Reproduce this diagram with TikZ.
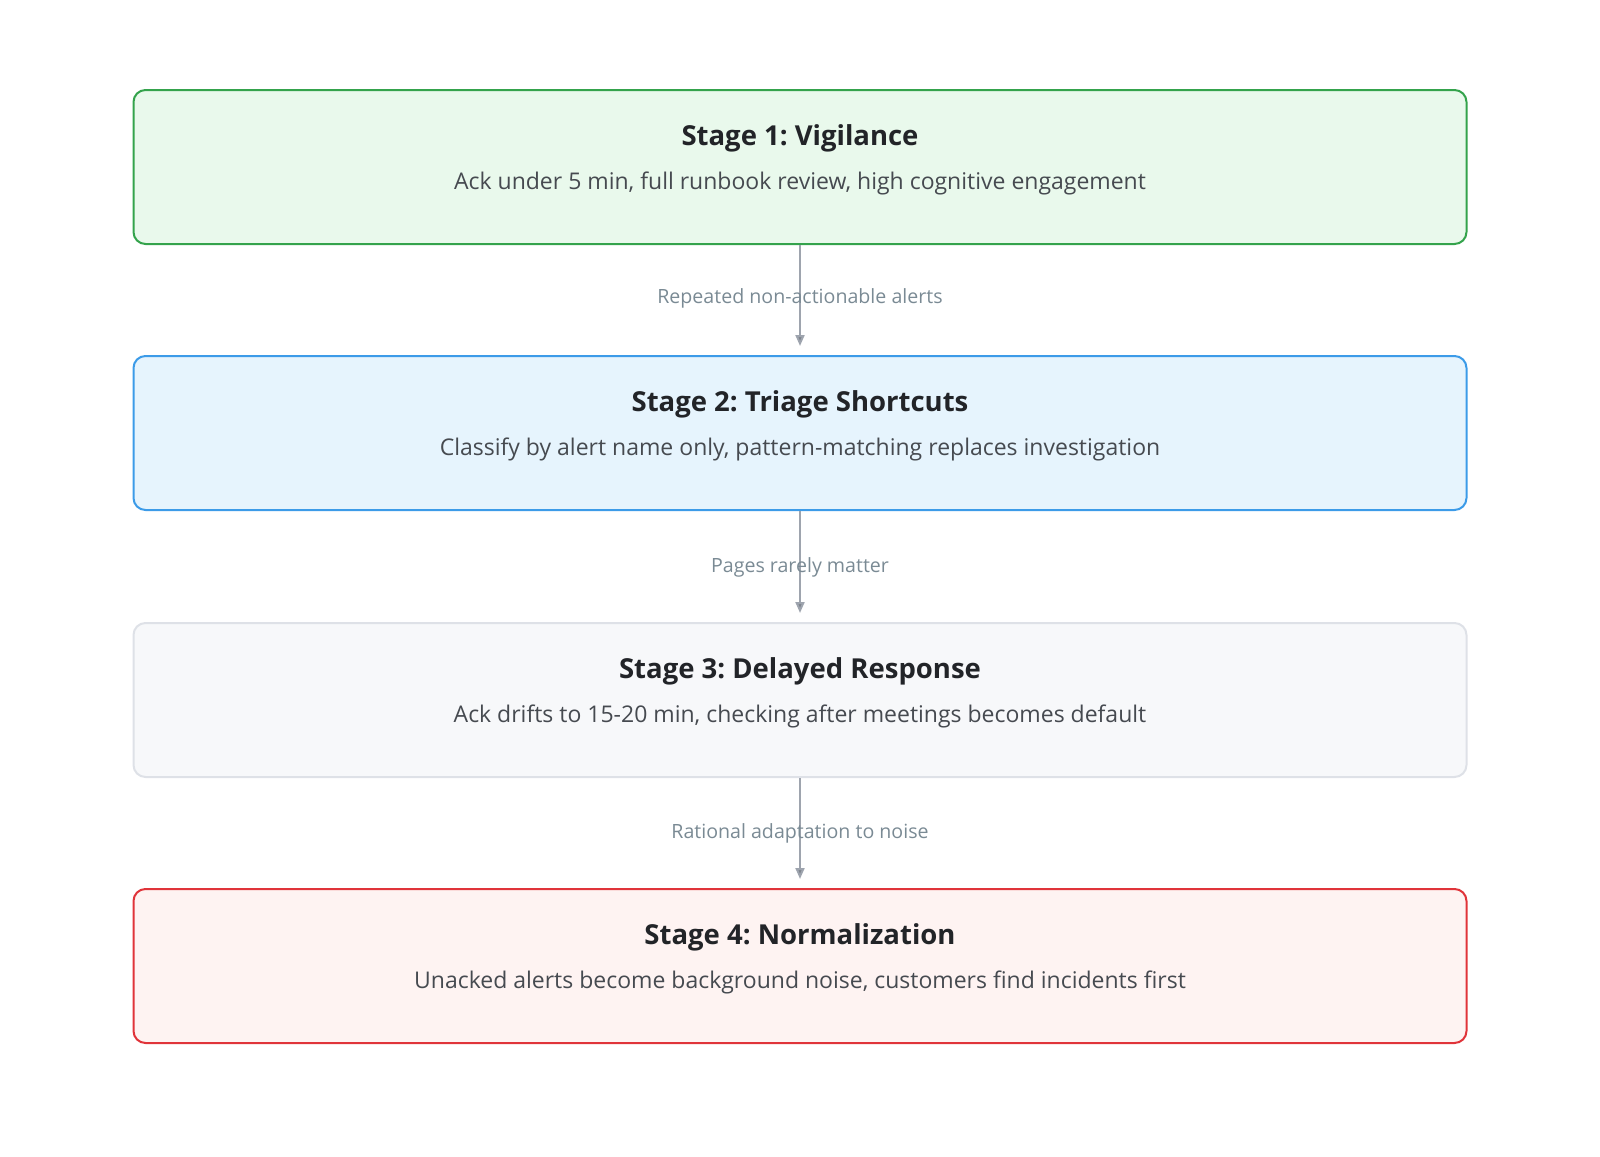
\documentclass[tikz,border=0pt]{standalone}
\usepackage{fontspec}
\setmainfont{Open Sans}
\frenchspacing
\usetikzlibrary{arrows.meta,positioning}
\definecolor{greenB}{RGB}{52,163,76}
\definecolor{greenF}{RGB}{233,249,236}
\definecolor{blueB}{RGB}{60,155,232}
\definecolor{blueF}{RGB}{230,244,253}
\definecolor{grayB}{RGB}{222,225,231}
\definecolor{grayF}{RGB}{247,248,250}
\definecolor{redB}{RGB}{224,52,58}
\definecolor{redF}{RGB}{254,243,242}
\definecolor{ink}{RGB}{34,36,40}
\definecolor{subink}{RGB}{70,74,80}
\definecolor{wire}{RGB}{158,164,174}
\definecolor{tipink}{RGB}{125,131,140}
\definecolor{labelink}{RGB}{122,138,148}
\tikzset{
  stagebox/.style 2 args={
    rounded corners=12pt,
    draw=#1,
    fill=#2,
    line width=2pt,
    minimum width=1333pt,
    minimum height=154pt,
    inner sep=0pt
  },
  title/.style={
    anchor=base,
    font=\fontsize{27.5}{32}\selectfont\bfseries,
    text=ink,
    inner sep=0pt
  },
  subtitle/.style={
    anchor=base,
    font=\fontsize{23}{27}\selectfont,
    text=subink,
    inner sep=0pt
  },
  arrow/.style={-{Triangle[length=11pt,width=9pt,fill=tipink]}, line width=2pt, draw=wire, shorten >=9pt},
  edgelabel/.style={
    anchor=base,
    font=\fontsize{19.6}{24}\selectfont,
    text=labelink,
    inner sep=0pt
  },
}

\begin{document}
\begin{tikzpicture}[x=1pt,y=1pt]

\useasboundingbox (0,0) rectangle (1600,-1156);

\node[stagebox={greenB}{greenF}] (s1) at (800,-167) {};
\node[stagebox={blueB}{blueF}] (s2) at (800,-433) {};
\node[stagebox={grayB}{grayF}] (s3) at (800,-700) {};
\node[stagebox={redB}{redF}] (s4) at (800,-966) {};

\node[title] (t1) at ([yshift=22pt]s1.center) {Stage 1: Vigilance};
\node[subtitle] (d1) at ([yshift=-22pt]s1.center) {Ack under 5 min, full runbook review, high cognitive engagement};

\node[title] (t2) at ([yshift=22pt]s2.center) {Stage 2: Triage Shortcuts};
\node[subtitle] (d2) at ([yshift=-22pt]s2.center) {Classify by alert name only, pattern-matching replaces investigation};

\node[title] (t3) at ([yshift=22pt]s3.center) {Stage 3: Delayed Response};
\node[subtitle] (d3) at ([yshift=-22pt]s3.center) {Ack drifts to 15-20 min, checking after meetings becomes default};

\node[title] (t4) at ([yshift=22pt]s4.center) {Stage 4: Normalization};
\node[subtitle] (d4) at ([yshift=-22pt]s4.center) {Unacked alerts become background noise, customers find incidents first};

% transitions
\draw[arrow] (s1.south) -- (s2.north);
\draw[arrow] (s2.south) -- (s3.north);
\draw[arrow] (s3.south) -- (s4.north);

\node[edgelabel] (e1) at (800,-303) {Repeated non-actionable alerts};
\node[edgelabel] (e2) at (800,-572) {Pages rarely matter};
\node[edgelabel] (e3) at (800,-838) {Rational adaptation to noise};

\end{tikzpicture}
\end{document}
